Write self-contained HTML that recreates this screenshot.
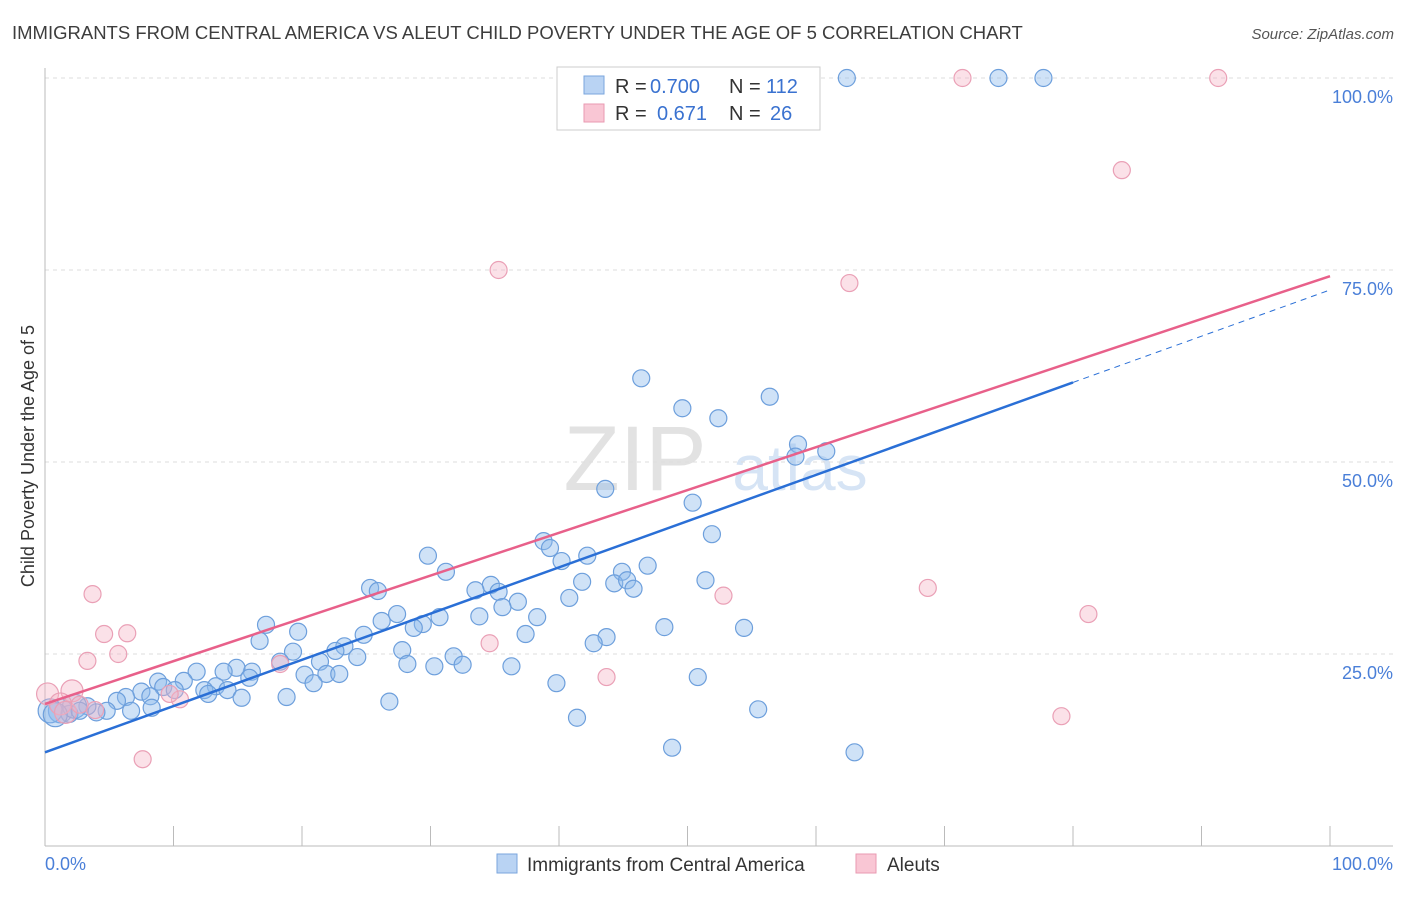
<!DOCTYPE html>
<html><head><meta charset="utf-8"><style>
body{margin:0;background:#fff;font-family:"Liberation Sans",sans-serif;}
svg text{font-family:"Liberation Sans",sans-serif;}
</style></head><body>
<svg width="1406" height="892">
<text x="12" y="39" font-size="18.5" fill="#3d3d3d">IMMIGRANTS FROM CENTRAL AMERICA VS ALEUT CHILD POVERTY UNDER THE AGE OF 5 CORRELATION CHART</text>
<text x="1394" y="39" font-size="15" fill="#555" font-style="italic" text-anchor="end">Source: ZipAtlas.com</text>
<text x="635" y="490" font-size="92" fill="#e2e2e2" font-family="Liberation Serif" text-anchor="middle">ZIP</text>
<text x="800" y="490" font-size="64" fill="#d6e4f5" text-anchor="middle">atlas</text>
<g id="grid"></g>
<line x1="45" y1="68" x2="45" y2="846" stroke="#bbb"/>
<line x1="45" y1="846" x2="1393" y2="846" stroke="#bbb"/>
<text transform="translate(34,456) rotate(-90)" font-size="18" fill="#333" text-anchor="middle">Child Poverty Under the Age of 5</text>
<text x="45" y="870" font-size="18" fill="#4a7fd8">0.0%</text>
<text x="1393" y="870" font-size="18" fill="#4a7fd8" text-anchor="end">100.0%</text>
<g id="points"></g>
<g id="trends"></g>
<g>
<rect x="557" y="67" width="263" height="63" fill="#fff" stroke="#ccc"/>
<rect x="584" y="76" width="20" height="18" fill="#b9d3f3" stroke="#7aa6de"/>
<rect x="584" y="104" width="20" height="18" fill="#f9c6d4" stroke="#e99ab2"/>
<text y="93" font-size="20" fill="#333"><tspan x="615">R =</tspan><tspan x="650" fill="#3a72d0">0.700</tspan><tspan x="729">N =</tspan><tspan x="766" fill="#3a72d0">112</tspan></text>
<text y="120" font-size="20" fill="#333"><tspan x="615">R =</tspan><tspan x="657" fill="#3a72d0">0.671</tspan><tspan x="729">N =</tspan><tspan x="770" fill="#3a72d0">26</tspan></text>
</g>
<g>
<rect x="497" y="854" width="20" height="19" fill="#b9d3f3" stroke="#7aa6de"/>
<text x="527" y="871" font-size="19" fill="#333">Immigrants from Central America</text>
</g>
<g>
<rect x="856" y="854" width="20" height="19" fill="#f9c6d4" stroke="#e99ab2"/>
<text x="887" y="871" font-size="19" fill="#333">Aleuts</text>
</g>
</svg>
<script>
const yTicks=[25,50,75,100];
const yTickLabels=["25.0%","50.0%","75.0%","100.0%"];
const xTicks=[0,10,20,30,40,50,60,70,80,90,100];
const blueX=[62.4,74.2,77.7,46.4,49.6,52.4,56.4,58.6,58.4,60.8,43.6,50.4,51.9,38.8,39.3,29.8,31.2,40.2,42.2,44.9,46.9,25.3,25.9,34.7,33.5,35.3,41.8,44.3,45.3,45.8,51.4,36.8,35.6,40.8,33.8,27.4,26.2,30.7,29.4,28.7,38.3,17.2,19.7,37.4,43.7,42.7,48.2,54.4,24.8,23.3,22.6,24.3,27.8,19.3,16.7,21.4,31.8,32.5,30.3,28.2,18.3,16.1,14.9,13.9,11.8,10.8,8.8,36.3,20.2,21.9,22.9,20.9,15.9,13.3,14.2,12.4,12.7,9.2,10.1,7.5,18.8,15.3,8.2,6.3,5.6,4.8,4.0,3.3,6.7,8.3,39.8,50.8,26.8,41.4,55.5,48.8,63.0,1.2,1.9,0.4,2.3,2.7,0.8];
const blueY=[100,100,100,60.9,57.0,55.7,58.5,52.3,50.7,51.4,46.5,44.7,40.6,39.7,38.8,37.8,35.7,37.1,37.8,35.7,36.5,33.6,33.2,34.0,33.3,33.1,34.4,34.2,34.6,33.5,34.6,31.8,31.1,32.3,29.9,30.2,29.3,29.8,28.9,28.4,29.8,28.8,27.9,27.6,27.2,26.4,28.5,28.4,27.5,26.0,25.4,24.6,25.5,25.3,26.7,24.0,24.7,23.6,23.4,23.7,24.0,22.7,23.2,22.7,22.7,21.5,21.4,23.4,22.3,22.4,22.4,21.2,21.9,20.8,20.3,20.3,19.8,20.7,20.3,20.1,19.4,19.3,19.5,19.4,18.9,17.6,17.4,18.2,17.6,18.0,21.2,22.0,18.8,16.7,17.8,12.8,12.2,17.6,17.2,17.6,18.2,17.6,17.1];
const blueBig=[1.2,0.4,0.8,2.3];
const pinkX=[35.3,62.6,83.8,71.4,91.3,68.7,81.2,52.8,43.7,79.1,34.6,18.3,3.7,4.6,6.4,5.7,3.3,7.6,10.5,2.1,0.2,1.2,3.9,9.7,1.6,2.7];
const pinkY=[75.0,73.3,88.0,100,100,33.6,30.2,32.6,22.0,16.9,26.4,23.7,32.8,27.6,27.7,25.0,24.1,11.3,19.1,20.2,19.8,18.5,17.7,19.8,17.4,18.4];
const blueTrend=[12.2,72.4];
const pinkTrend=[18.5,74.2];
const blueSolidEnd=80;
const NS="http://www.w3.org/2000/svg";
const X=v=>45+v*12.85, Y=v=>846-v*7.68;
const grid=document.getElementById('grid');
yTicks.forEach((t,i)=>{
 const l=document.createElementNS(NS,'line');
 l.setAttribute('x1',45);l.setAttribute('x2',1393);l.setAttribute('y1',Y(t));l.setAttribute('y2',Y(t));
 l.setAttribute('stroke','#ddd');l.setAttribute('stroke-dasharray','4,4');
 
 
 grid.appendChild(l);
 const tx=document.createElementNS(NS,'text');
 tx.setAttribute('x',1393);tx.setAttribute('y',Y(t)+25);tx.setAttribute('text-anchor','end');
 tx.setAttribute('font-size','18');tx.setAttribute('fill','#4a7fd8');tx.textContent=yTickLabels[i];
 
 
 grid.appendChild(tx);
});
xTicks.forEach(t=>{
 const l=document.createElementNS(NS,'line');
 l.setAttribute('x1',X(t));l.setAttribute('x2',X(t));l.setAttribute('y1',826);l.setAttribute('y2',846);
 l.setAttribute('stroke','#bbb');
 
 
 grid.appendChild(l);
});
const pts=document.getElementById('points');
function dot(x,y,r,fill,stroke,name){
 const c=document.createElementNS(NS,'circle');
 c.setAttribute('cx',X(x));c.setAttribute('cy',Y(y));c.setAttribute('r',r);
 c.setAttribute('fill',fill);c.setAttribute('stroke',stroke);c.setAttribute('stroke-width','1.2');
 
 
 pts.appendChild(c);
}
blueX.forEach((x,i)=>dot(x,blueY[i],blueBig.includes(x)?12:8.5,'rgba(140,185,235,0.42)','#6d9fdc','immigrants-point'));
pinkX.forEach((x,i)=>dot(x,pinkY[i],(x<2.5)?11:8.5,'rgba(246,180,198,0.4)','#eaa0b6','aleuts-point'));
const tr=document.getElementById('trends');
function line(x1,y1,x2,y2,col,dash,name){
 const l=document.createElementNS(NS,'line');
 l.setAttribute('x1',X(x1));l.setAttribute('y1',Y(y1));l.setAttribute('x2',X(x2));l.setAttribute('y2',Y(y2));
 l.setAttribute('stroke',col);l.setAttribute('stroke-width',dash?1:2.5);
 if(dash)l.setAttribute('stroke-dasharray','6,5');
 
 
 tr.appendChild(l);
}
const bAt=x=>blueTrend[0]+(blueTrend[1]-blueTrend[0])*x/100;
line(0,blueTrend[0],blueSolidEnd,bAt(blueSolidEnd),'#2a6fd6',false,'immigrants-trend-line');
line(blueSolidEnd,bAt(blueSolidEnd),100,blueTrend[1],'#2a6fd6',true,'immigrants-trend-extension');
line(0,pinkTrend[0],100,pinkTrend[1],'#e8608a',false,'aleuts-trend-line');
</script>
</body></html>
